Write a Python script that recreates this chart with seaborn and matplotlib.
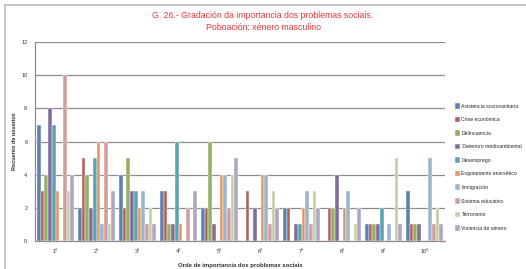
import pandas as pd
import matplotlib
matplotlib.use("Agg")
import matplotlib.pyplot as plt
import seaborn as sns

# Categorías (orde de importancia)
categorias = ["1º", "2º", "3º", "4º", "5º", "6º", "7º", "8º", "9º", "10º"]

# Series (problemas sociais)
series = [
    "Asistencia sociosanitaria",
    "Crise económica",
    "Delincuencia",
    " Deterioro medioambiental",
    "Desemprego",
    "Esgotamento enerxético",
    "Inmigración",
    "Sistema educativo",
    "Terrorismo",
    "Violencia de xénero",
]

asistencia = [7, 2, 4, 3, 2, 0, 2, 0, 1, 3]
crise = [3, 5, 2, 3, 2, 3, 2, 2, 1, 1]
delincuencia = [4, 4, 5, 1, 6, 0, 0, 2, 1, 1]
deterioro = [8, 2, 3, 1, 1, 2, 1, 4, 1, 1]
desemprego = [7, 5, 3, 6, 0, 0, 1, 0, 2, 0]
esgotamento = [3, 6, 2, 1, 4, 4, 2, 2, 0, 0]
inmigracion = [0, 1, 3, 0, 4, 4, 3, 3, 1, 5]
sistema = [10, 6, 1, 2, 2, 1, 1, 0, 0, 1]
terrorismo = [3, 1, 2, 0, 4, 3, 3, 1, 5, 2]
violencia = [4, 3, 1, 3, 5, 2, 2, 2, 1, 1]

valores = [asistencia, crise, delincuencia, deterioro, desemprego,
           esgotamento, inmigracion, sistema, terrorismo, violencia]

cores = ["#4F81BD", "#C0504D", "#9BBB59", "#8064A2", "#4BACC6",
         "#F79646", "#95B3D7", "#DA9694", "#C4D79B", "#B1A0C7"]

# Táboa longa para seaborn
filas = []
for nome, vals in zip(series, valores):
    for cat, v in zip(categorias, vals):
        filas.append({"Orde": cat, "Problema": nome, "Recuento": v})
df = pd.DataFrame(filas)

sns.set_style("white")
plt.rcParams["font.family"] = ["Liberation Sans Narrow", "Liberation Sans", "DejaVu Sans"]

fig = plt.figure(figsize=(5.26, 2.69), dpi=100)
ax = fig.add_axes([35 / 526, 28 / 269, 410 / 526, 199 / 269])

sns.barplot(
    data=df, x="Orde", y="Recuento", hue="Problema",
    order=categorias, hue_order=series, palette=cores,
    width=0.9, edgecolor="white", linewidth=0.3,
    errorbar=None, ax=ax, zorder=3,
)

ax.set_ylim(0, 12)
ax.set_xlim(-0.5, 9.5)
ax.set_yticks(range(0, 13, 2))
ax.yaxis.grid(True, color="#8c8c8c", linewidth=0.9, zorder=0)
ax.set_axisbelow(True)
for s in ["top", "right"]:
    ax.spines[s].set_visible(False)
for s in ["left", "bottom"]:
    ax.spines[s].set_color("#8c8c8c")
    ax.spines[s].set_linewidth(0.9)
ax.tick_params(axis="both", labelsize=4, colors="#8c8c8c", labelcolor="#333333",
               length=2, width=0.6)
ax.tick_params(axis="x", length=0, pad=6)

ax.set_ylabel("Recuento de usuarios", fontsize=4, fontweight="bold", color="#333333")
ax.yaxis.set_label_coords(-18 / 410, 0.5)
ax.set_xlabel("Orde de importancia dos problemas sociais", fontsize=4.3, fontweight="bold",
              labelpad=6, color="#333333")

# Lenda á dereita
handles, labels = ax.get_legend_handles_labels()
ax.legend(handles, labels, loc="upper left", bbox_to_anchor=(453 / 526, 1 - 101 / 269),
          bbox_transform=fig.transFigure, frameon=False, fontsize=3.7,
          handlelength=0.9, handleheight=1.3, handletextpad=0.35, labelspacing=1.55,
          borderaxespad=0)

# Título
fig.text(0.5, 1 - 15 / 269, "G. 26.- Gradación da importancia dos problemas sociais.",
         ha="center", va="center", fontsize=6.3, color="#E0383A")
fig.text(0.5, 1 - 28 / 269, "Poboación: xénero masculino",
         ha="center", va="center", fontsize=6.3, color="#E0383A")

# Marco
fig.add_artist(plt.Line2D([5 / 526, 5 / 526], [0, 1 - 5 / 269], color="#bdbdbd",
                          linewidth=1.2, transform=fig.transFigure))
fig.add_artist(plt.Line2D([5 / 526, 1], [1 - 5 / 269, 1 - 5 / 269], color="#bdbdbd",
                          linewidth=1.2, transform=fig.transFigure))

fig.savefig("out.png", dpi=100)
plt.close(fig)
